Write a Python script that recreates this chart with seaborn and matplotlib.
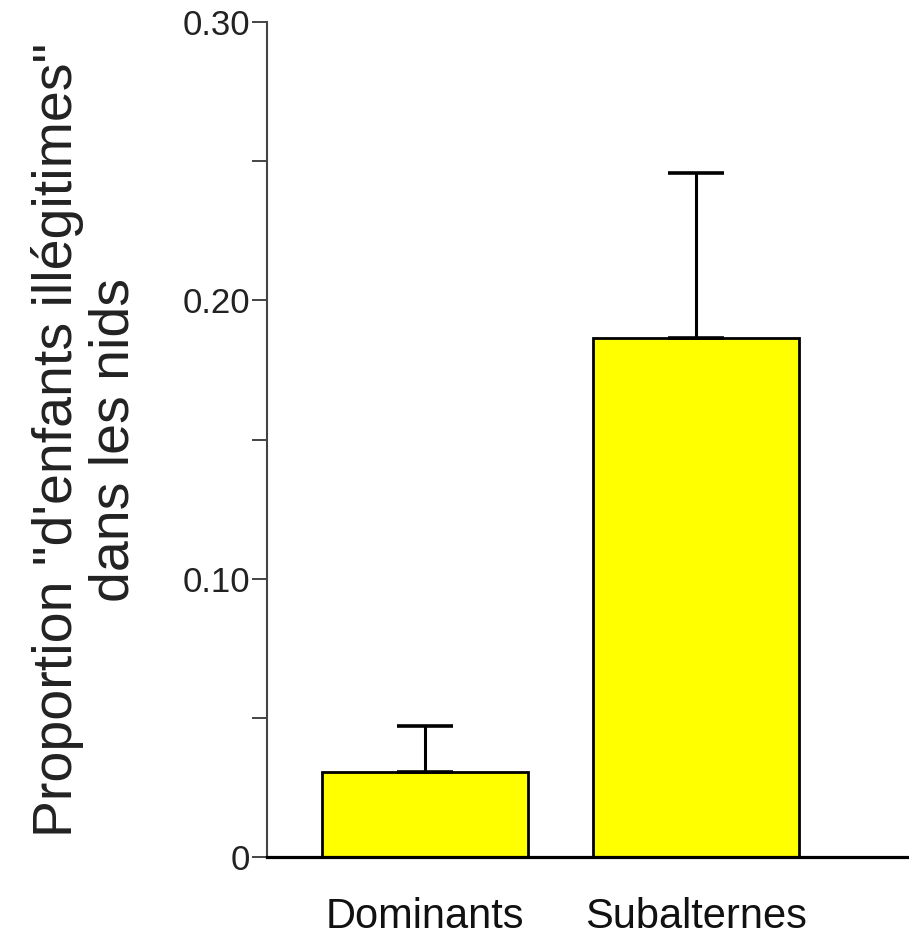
import matplotlib
matplotlib.use("Agg")
import matplotlib.pyplot as plt
import seaborn as sns

# data
groups = ["Dominants", "Subalternes"]
means = [0.0305, 0.1865]
errors = [0.0165, 0.0593]

major_ticks = [0, 0.10, 0.20, 0.30]
major_labels = ["0", "0.10", "0.20", "0.30"]
minor_ticks = [0.05, 0.15, 0.25]

sns.set_style("ticks")
plt.rcParams["font.family"] = ["Liberation Sans", "DejaVu Sans"]

fig = plt.figure(figsize=(9.09, 9.41), dpi=100)
ax = fig.add_axes([267 / 909, (941 - 857) / 941, 640 / 909, (857 - 22) / 941])

sns.barplot(x=groups, y=means, color="#ffff00", saturation=1, edgecolor="black",
            linewidth=2.0, width=0.76, errorbar=None, ax=ax)

# upper error bars only
ax.errorbar(range(len(groups)), means, yerr=[[0] * len(errors), errors], fmt="none",
            ecolor="black", elinewidth=2.2, capsize=20, capthick=2.6, zorder=3)

ax.set_xlim(-0.583, 1.779)
ax.set_ylim(0, 0.30)
ax.set_yticks(major_ticks)
ax.set_yticklabels(major_labels)
ax.set_yticks(minor_ticks, minor=True)

sns.despine(ax=ax)
ax.spines["left"].set_color("#444444")
ax.spines["left"].set_linewidth(1.5)
ax.spines["bottom"].set_color("black")
ax.spines["bottom"].set_linewidth(2.3)

ax.tick_params(axis="y", which="both", length=11, width=1.4, color="#444444",
               labelsize=25, labelcolor="#222222", pad=1)
ax.tick_params(axis="x", length=0, labelsize=30, labelcolor="#111111", pad=29)

ax.set_xlabel("")
ax.set_ylabel('Proportion "d\'enfants illégitimes"\ndans les nids', fontsize=40,
              color="#222222", linespacing=1.1)
ax.yaxis.set_label_coords(-0.198, 0.5)

fig.savefig("out.png", dpi=100)
